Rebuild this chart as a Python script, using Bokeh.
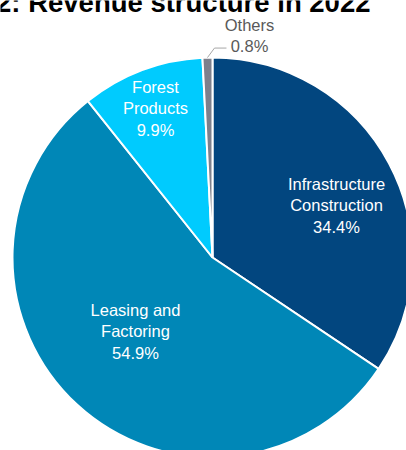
import numpy as np
from bokeh.plotting import figure
from bokeh.models import ColumnDataSource, Range1d
from bokeh.core.properties import value
from bokeh.embed import file_html
from bokeh.resources import INLINE

# ---- data ----
categories = ["Infrastructure\nConstruction", "Leasing and\nFactoring", "Forest\nProducts", "Others"]
shares = [34.4, 54.9, 9.9, 0.8]
colors = ["#02467F", "#0087B7", "#00CBFE", "#7D808C"]
label_colors = ["white", "white", "white", "#595959"]
title_text = "Figure 2: Revenue structure in 2022"

W, H = 406, 450
CX, CY, R = 212, H - 257, 200

p = figure(width=W, height=H, x_range=Range1d(0, W), y_range=Range1d(0, H),
           output_backend="svg", toolbar_location=None, min_border=0,
           x_axis_type=None, y_axis_type=None, outline_line_color=None)
p.grid.visible = False

frac = np.array(shares) / sum(shares)
cum = np.concatenate([[0], np.cumsum(frac)])
start = np.pi / 2 - cum[:-1] * 2 * np.pi
end = np.pi / 2 - cum[1:] * 2 * np.pi

src = ColumnDataSource(dict(start=start, end=end, color=colors))
p.wedge(x=CX, y=CY, radius=R, start_angle="start", end_angle="end", direction="clock",
        fill_color="color", line_color="white", line_width=2, source=src)

# labels (offsets from centre in px)
offsets = [(124, 52), (-77, -74), (-57, 149), (37, 222)]
lx = [CX + o[0] for o in offsets]
ly = [CY + o[1] for o in offsets]
texts = [f"{c}\n{v:.1f}%" for c, v in zip(categories, shares)]
lsrc = ColumnDataSource(dict(x=lx, y=ly, text=texts, color=label_colors))
p.text(x="x", y="y", text="text", source=lsrc, text_color="color",
       text_font=value("Liberation Sans"), text_font_size="16.5px",
       text_align="center", text_baseline="middle", text_line_height=1.22)

# leader line for Others
mid = np.pi / 2 - (cum[3] + cum[4]) / 2 * 2 * np.pi
ex, ey = CX + R * np.cos(mid), CY + R * np.sin(mid)
p.line(x=[ex, ex + 7, ex + 19], y=[ey, ey + 9.5, ey + 9.5], line_color="#A6A6A6", line_width=1)

# title (partially cut off at top, as in the reference)
p.text(x=[370], y=[H - 1.5], text=[title_text], text_font=value("Liberation Sans"),
       text_font_style="bold", text_font_size="27.5px", text_color="#000000",
       text_align="right", text_baseline="alphabetic")

open("out.html", "w").write(file_html(p, INLINE))
